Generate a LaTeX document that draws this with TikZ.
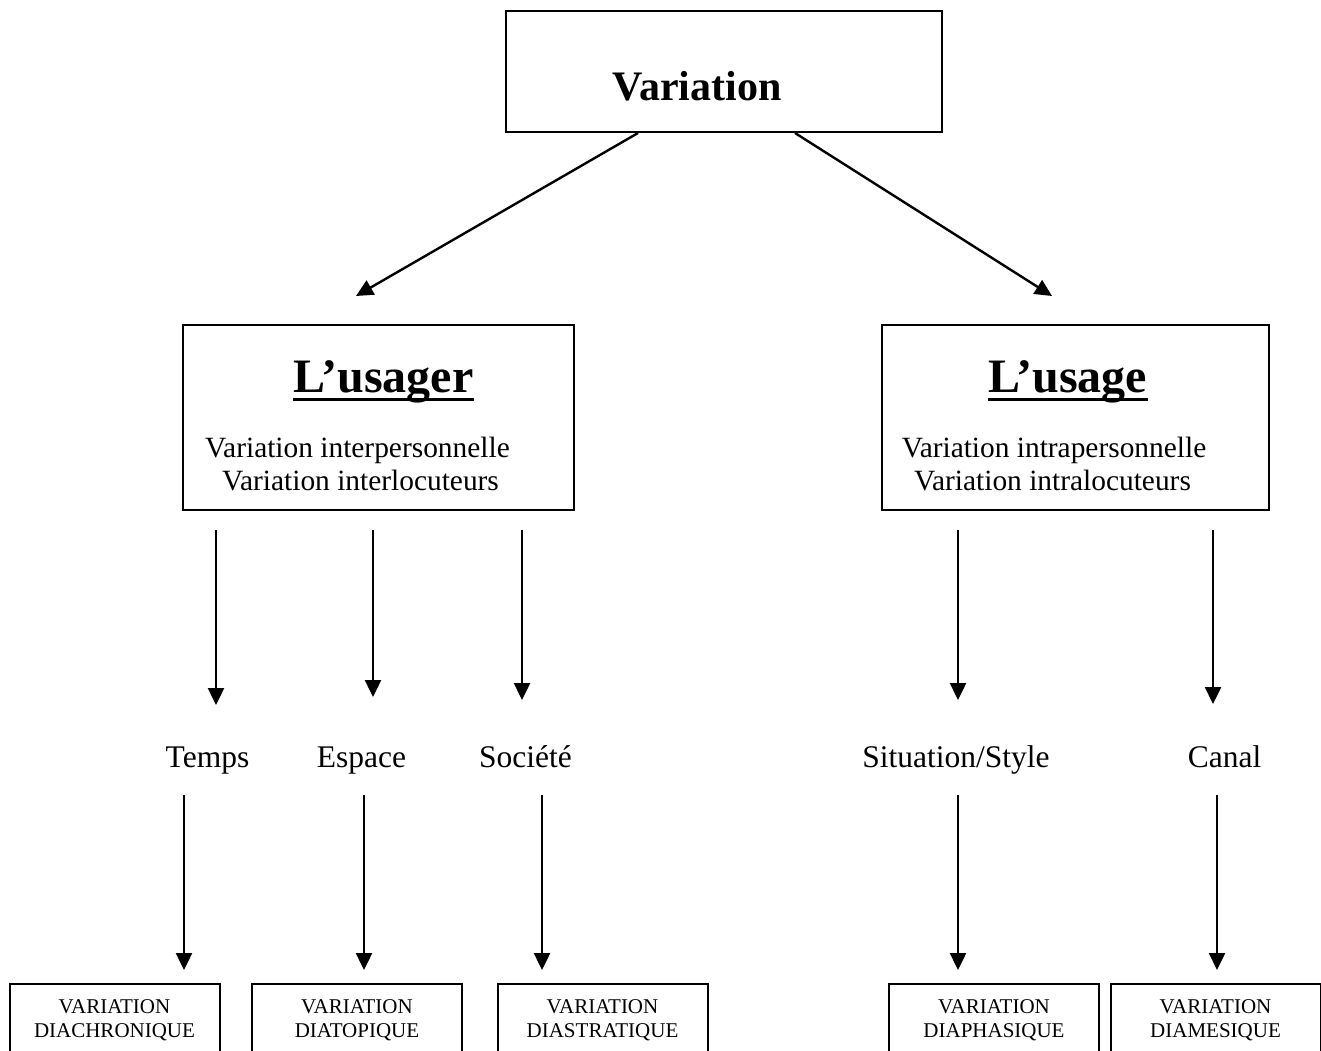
\documentclass[tikz,border=0pt]{standalone}
\usepackage{fontspec}
\setmainfont{Liberation Serif}
\usetikzlibrary{arrows.meta}

\begin{document}
\begin{tikzpicture}[x=.5pt,y=-.5pt,
    box/.style={draw,line width=1pt,inner sep=0pt},
    arr/.style={line width=1.2pt,-{Triangle[length=8.5pt,width=8pt]}},
    ttl/.style={font=\fontsize{24}{28}\selectfont\bfseries,anchor=base,inner sep=0pt},
    body/.style={font=\fontsize{14.7}{17}\selectfont,anchor=base,inner sep=0pt},
    lbl/.style={font=\fontsize{15.75}{18}\selectfont,anchor=base,inner sep=0pt},
    vbox/.style={draw,line width=1pt,anchor=north,minimum width=105pt,minimum height=60pt,inner sep=0pt},
    vtxt/.style={font=\fontsize{10.5}{12}\selectfont,anchor=base,inner sep=0pt}]
  \useasboundingbox (0,0) rectangle (1321,1050);
  \clip (0,0) rectangle (1321,1050);
  % top box
  \node[box,minimum width=218pt,minimum height=60.5pt] (variation) at (724,71.5) {};
  \node[ttl,font=\fontsize{21}{25}\selectfont\bfseries] (vartxt) at (697,100) {Variation};
  % usager / usage
  \node[box,minimum width=195.5pt,minimum height=92.5pt] (usager) at (378.5,417.5) {};
  \node[ttl] (usagerttl) at (383.5,392) {L’usager};
  \draw[line width=1.5pt] ([yshift=-3.5pt]usagerttl.base west) -- ([yshift=-3.5pt]usagerttl.base east);
  \node[body] (usager1) at (357.5,457) {Variation interpersonnelle};
  \node[body] (usager2) at (360.5,490) {Variation interlocuteurs};
  \node[box,minimum width=193.5pt,minimum height=92.5pt] (usage) at (1075.5,417.5) {};
  \node[ttl] (usagettl) at (1068,392) {L’usage};
  \draw[line width=1.5pt] ([yshift=-3.5pt]usagettl.base west) -- ([yshift=-3.5pt]usagettl.base east);
  \node[body] (usage1) at (1054,457) {Variation intrapersonnelle};
  \node[body] (usage2) at (1052.5,490) {Variation intralocuteurs};
  \coordinate (toleft) at (356,296);
  \coordinate (toright) at (1052,296);
  \draw[arr] ([xshift=-43pt]variation.south) -- (toleft);
  \draw[arr] ([xshift=35.5pt]variation.south) -- (toright);
  % dimensions
  \node[lbl] (temps) at (207.5,767) {Temps};
  \node[lbl] (espace) at (361.5,767) {Espace};
  \node[lbl] (societe) at (525.5,767) {Société};
  \node[lbl] (situation) at (956,767) {Situation/Style};
  \node[lbl] (canal) at (1224.5,767) {Canal};
  \foreach \n/\x/\y in {1/216/705,2/373/697,3/522/700,4/958/700,5/1213/704}{
    \coordinate (hi\n) at (\x,530); \coordinate (lo\n) at (\x,\y);
    \draw[arr] (hi\n) -- (lo\n);}
  \foreach \n/\x in {1/184,2/364,3/542,4/958,5/1217}{
    \coordinate (top\n) at (\x,795); \coordinate (end\n) at (\x,970);
    \draw[arr] (top\n) -- (end\n);}
  % bottom boxes
  \foreach \nm/\x/\word in {diachro/114.5/DIACHRONIQUE,diatop/357/DIATOPIQUE,diastrat/602.5/DIASTRATIQUE,
      diaphas/994/DIAPHASIQUE,diames/1215.5/DIAMESIQUE}{
    \node[vbox] (\nm) at (\x,983) {};
    \node[vtxt] (\nm a) at (\x,1013) {VARIATION};
    \node[vtxt] (\nm b) at (\x,1037) {\word};}
\end{tikzpicture}
\end{document}
